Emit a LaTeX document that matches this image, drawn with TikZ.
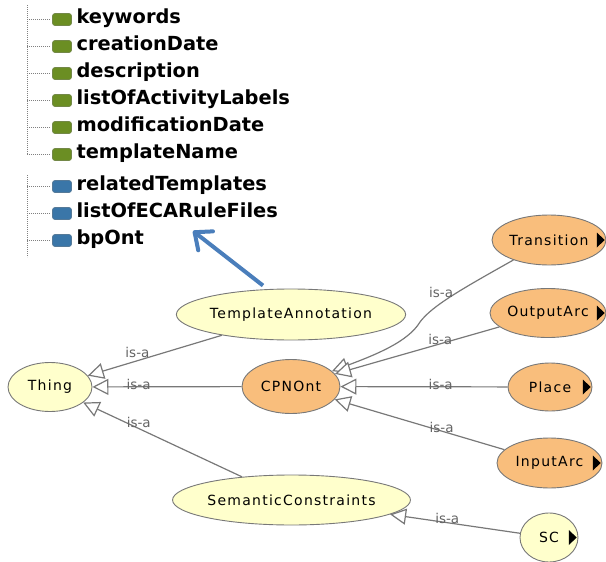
\documentclass[tikz,border=0pt]{standalone}
\usepackage{fontspec}
\setmainfont{DejaVu Sans}
\setsansfont{DejaVu Sans}
\usetikzlibrary{positioning,shapes.geometric,arrows.meta}

\definecolor{ClassYellow}{RGB}{255,255,204}
\definecolor{ClassOrange}{RGB}{249,190,124}
\definecolor{DataGreen}{RGB}{107,142,35}
\definecolor{ObjBlue}{RGB}{58,118,168}
\definecolor{EdgeGray}{RGB}{120,120,120}
\definecolor{LabelGray}{RGB}{100,100,100}
\definecolor{CalloutBlue}{RGB}{74,126,187}

\newcommand{\expmark}{\tikz\fill (0pt,0pt) -- (0pt,15pt) -- (8pt,7.5pt) -- cycle;}

\begin{document}
\begin{tikzpicture}[
        %Environment config
        x=1pt, y=-1pt,
        font=\sffamily,
        %Environment styles
        ClassCfg/.style={
            ellipse, draw=EdgeGray, line width=0.9pt, inner sep=0pt,
            font=\fontsize{14}{14}\selectfont\addfontfeatures{LetterSpace=9}
        },
        PlainClass/.style={ClassCfg, fill=ClassYellow},
        DefClass/.style={ClassCfg, fill=ClassOrange},
        HasSub/.style={label={[anchor=east, inner sep=1.5pt]east:\expmark}},
        IsA/.style={
            draw=EdgeGray, line width=1.2pt,
            -{Triangle[open, fill=white, length=16pt, width=16pt]}
        },
        IsaLbl/.style={font=\fontsize{13.5}{13.5}\selectfont, text=LabelGray, inner sep=0pt, yshift=4pt},
        PropBox/.style={
            draw=#1!60!gray, fill=#1, line width=0.7pt,
            rounded corners=2.5pt, minimum width=19pt, minimum height=12pt, inner sep=0pt
        },
        PropLbl/.style={font=\fontsize{19.4}{19.4}\selectfont\bfseries, inner sep=0pt, text height=0.76em, text depth=0pt},
        TreeDots/.style={draw=gray, line width=0.8pt, dash pattern=on 0.8pt off 1.2pt},
        Callout/.style={draw=CalloutBlue, line width=4pt, -{Straight Barb[length=14pt, width=24pt, round]}}
    ]
    \useasboundingbox (0,0) rectangle (606,562);

    % property tree
    \coordinate (trunkA) at (27,5);
    \coordinate (trunkB) at (27,175);
    \coordinate (trunkEnd) at (27,257);
    \foreach \prop [count=\i] in {keywords,creationDate,description,listOfActivityLabels,modificationDate,templateName}{
        \node[PropBox=DataGreen] (dp\i) at (62,{19.5+27*(\i-1)}) {};
        \node[PropLbl, right=4.5pt of dp\i] (dpl\i) {\prop};
        \draw[TreeDots] ([xshift=-2pt]dp\i.west) -- (dp\i.west -| trunkA);
    }
    \foreach \prop [count=\i] in {relatedTemplates,listOfECARuleFiles,bpOnt}{
        \node[PropBox=ObjBlue] (op\i) at (62,{186.5+27*(\i-1)}) {};
        \node[PropLbl, right=4.5pt of op\i] (opl\i) {\prop};
        \draw[TreeDots] ([xshift=-2pt]op\i.west) -- (op\i.west -| trunkB);
    }
    \draw[TreeDots] (trunkA) -- (trunkA |- dp6);
    \draw[TreeDots] (trunkB) -- (trunkEnd);

    % class graph
    \node[PlainClass, minimum width=84pt, minimum height=49pt] (Thing) at (50,387) {Thing};
    \node[PlainClass, minimum width=204pt, minimum height=51pt] (TemplateAnnotation) at (291,314.5) {TemplateAnnotation};
    \node[DefClass, minimum width=98pt, minimum height=54pt] (CPNOnt) at (291,386.5) {CPNOnt};
    \node[PlainClass, minimum width=203pt, minimum height=50pt] (SemanticConstraints) at (291.5,500) {SemanticConstraints};
    \node[DefClass, HasSub, minimum width=114pt, minimum height=50pt] (Transition) at (549,240) {Transition};
    \node[DefClass, HasSub, minimum width=116pt, minimum height=49pt] (OutputArc) at (548,313) {OutputArc};
    \node[DefClass, HasSub, minimum width=84pt, minimum height=48pt] (Place) at (550,387) {Place};
    \node[DefClass, HasSub, minimum width=105pt, minimum height=50pt] (InputArc) at (549.5,463) {InputArc};
    \node[PlainClass, HasSub, minimum width=58pt, minimum height=49pt] (SC) at (549,537.5) {SC};

    \draw[IsA] (TemplateAnnotation) -- node[IsaLbl, pos=0.63, yshift=4pt]{is-a} (Thing);
    \draw[IsA] (CPNOnt) -- node[IsaLbl, pos=0.69, yshift=-2pt]{is-a} (Thing);
    \draw[IsA] (SemanticConstraints) -- node[IsaLbl, pos=0.65, yshift=2pt]{is-a} (Thing);
    \draw[IsA] (Transition) .. controls (460,290) and (432,306) .. node[IsaLbl, pos=0.62, yshift=7pt]{is-a} (420,322)
        .. controls (408,342) and (375,355) .. (CPNOnt);
    \draw[IsA] (OutputArc) -- node[IsaLbl, pos=0.36]{is-a} (CPNOnt);
    \draw[IsA] (Place) -- node[IsaLbl, pos=0.4, yshift=-2pt]{is-a} (CPNOnt);
    \draw[IsA] (InputArc) -- node[IsaLbl, pos=0.37]{is-a} (CPNOnt);
    \draw[IsA] (SC) -- node[IsaLbl, pos=0.56]{is-a} (SemanticConstraints);

    % pointer to the property
    \coordinate (ptr) at (193,231);
    \draw[Callout] ([xshift=-28pt,yshift=3pt]TemplateAnnotation.north) -- (ptr);
\end{tikzpicture}
\end{document}
